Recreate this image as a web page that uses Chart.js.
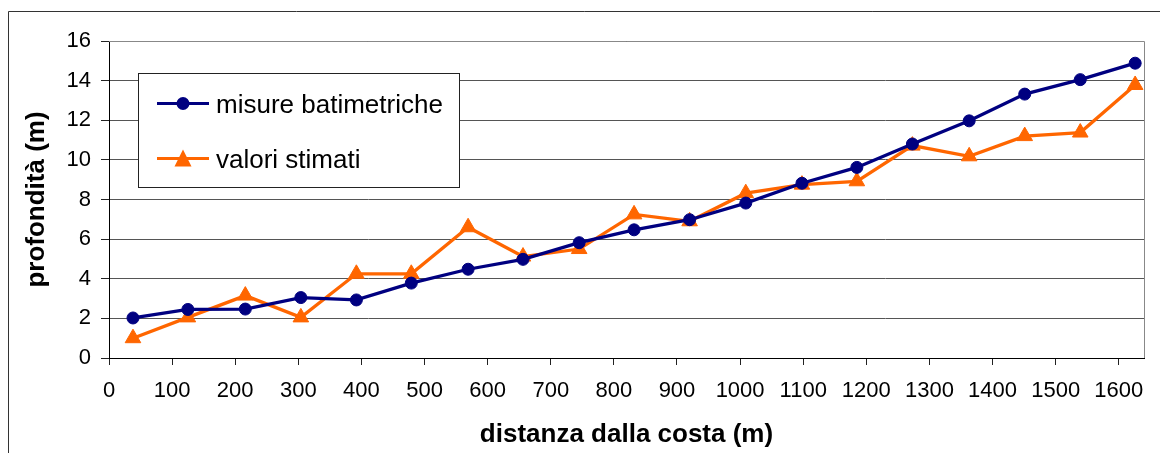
<!DOCTYPE html>
<html lang="it">
<head>
    <meta charset="UTF-8">
    <title>Profondità vs distanza dalla costa</title>
    <script src="https://cdn.jsdelivr.net/npm/chart.js"></script>
    <style>
        body {
            margin: 0;
            padding: 0;
            background-color: #fff;
        }
        canvas {
            display: block;
        }
    </style>
</head>
<body>
    <canvas id="chart" width="1160" height="453"></canvas>

    <script>
        // distanza dalla costa (m)
        const distances = [38, 125, 216, 304, 392, 479, 569, 656, 745, 832, 920, 1009, 1098, 1185, 1273, 1363, 1451, 1539, 1626];
        // profondità (m)
        const measured = [2.02, 2.45, 2.47, 3.05, 2.93, 3.78, 4.48, 4.98, 5.82, 6.47, 6.98, 7.82, 8.82, 9.62, 10.8, 11.97, 13.32, 14.05, 14.88];
        const estimated = [1.0, 2.05, 3.15, 2.05, 4.25, 4.25, 6.6, 5.12, 5.5, 7.25, 6.9, 8.32, 8.75, 8.92, 10.72, 10.18, 11.2, 11.38, 13.78];
        const seriesNames = ["misure batimetriche", "valori stimati"];

        const FONT = "'Liberation Sans', Arial, sans-serif";

        // frame around the whole chart + grey border on top/right of plot
        const framePlugin = {
            id: "frame",
            beforeDraw(chart) {
                const ctx = chart.ctx;
                ctx.save();
                ctx.strokeStyle = "#333";
                ctx.lineWidth = 1;
                ctx.beginPath();
                ctx.moveTo(8.5, chart.height);
                ctx.lineTo(8.5, 11.5);
                ctx.lineTo(chart.width, 11.5);
                ctx.stroke();
                ctx.restore();
            },
            afterDraw(chart) {
                const a = chart.chartArea;
                const ctx = chart.ctx;
                ctx.save();
                ctx.strokeStyle = "#888";
                ctx.lineWidth = 1;
                ctx.beginPath();
                ctx.moveTo(Math.round(a.left), Math.round(a.top) + 0.5);
                ctx.lineTo(Math.round(a.right) + 0.5, Math.round(a.top) + 0.5);
                ctx.lineTo(Math.round(a.right) + 0.5, Math.round(a.bottom));
                ctx.stroke();
                ctx.restore();
            }
        };

        // legend box inside the plot, like the original
        const legendBox = {
            id: "legendBox",
            afterDatasetsDraw(chart) {
                const ctx = chart.ctx;
                ctx.save();
                ctx.fillStyle = "#fff";
                ctx.fillRect(138.5, 73.5, 321, 114);
                ctx.strokeStyle = "#222";
                ctx.lineWidth = 1;
                ctx.strokeRect(138.5, 73.5, 321, 114);

                const rows = [103.5, 158.5];
                chart.data.datasets.forEach((ds, i) => {
                    const y = rows[i];
                    ctx.strokeStyle = ds.borderColor;
                    ctx.lineWidth = 3;
                    ctx.beginPath();
                    ctx.moveTo(157, y);
                    ctx.lineTo(209, y);
                    ctx.stroke();
                    ctx.fillStyle = ds.pointBackgroundColor;
                    ctx.beginPath();
                    if (ds.pointStyle === "triangle") {
                        ctx.moveTo(183, y - 9);
                        ctx.lineTo(191.5, y + 8);
                        ctx.lineTo(174.5, y + 8);
                        ctx.closePath();
                    } else {
                        ctx.arc(183, y, 6.5, 0, Math.PI * 2);
                    }
                    ctx.fill();

                    ctx.fillStyle = "#000";
                    ctx.font = "26px " + FONT;
                    ctx.textBaseline = "alphabetic";
                    ctx.fillText(ds.label, 216, y + 9);
                });
                ctx.restore();
            }
        };

        const toPoints = (vals) => vals.map((v, i) => ({ x: distances[i], y: v }));

        new Chart(document.getElementById("chart").getContext("2d"), {
            type: "line",
            data: {
                datasets: [
                    {
                        label: seriesNames[0],
                        data: toPoints(measured),
                        borderColor: "#000080",
                        backgroundColor: "#000080",
                        pointBackgroundColor: "#000080",
                        pointBorderColor: "#000080",
                        borderWidth: 3.3,
                        pointStyle: "circle",
                        pointRadius: 6,
                        pointBorderWidth: 1,
                        tension: 0
                    },
                    {
                        label: seriesNames[1],
                        data: toPoints(estimated),
                        borderColor: "#FF6600",
                        backgroundColor: "#FF6600",
                        pointBackgroundColor: "#FF6600",
                        pointBorderColor: "#FF6600",
                        borderWidth: 3.3,
                        pointStyle: "triangle",
                        pointRadius: 9,
                        pointBorderWidth: 1,
                        tension: 0
                    }
                ]
            },
            options: {
                responsive: false,
                animation: false,
                layout: { padding: { top: 41, right: 16, left: 0, bottom: 0 } },
                plugins: {
                    legend: { display: false },
                    tooltip: { enabled: false }
                },
                scales: {
                    x: {
                        type: "linear",
                        min: 0,
                        max: 1640,
                        afterFit: (scale) => { scale.height = 95; },
                        ticks: {
                            stepSize: 100,
                            includeBounds: false,
                            autoSkip: false,
                            maxRotation: 0,
                            padding: 13,
                            color: "#000",
                            font: { family: FONT, size: 22 },
                            callback: (v) => String(v)
                        },
                        grid: {
                            drawOnChartArea: false,
                            drawTicks: true,
                            tickLength: 7,
                            color: "#222"
                        },
                        border: { color: "#000", width: 1 },
                        title: {
                            display: true,
                            text: "distanza dalla costa (m)",
                            color: "#000",
                            font: { family: FONT, size: 26, weight: "bold" },
                            padding: { top: 0, bottom: 3 }
                        }
                    },
                    y: {
                        min: 0,
                        max: 16,
                        afterFit: (scale) => { scale.width = 109; },
                        ticks: {
                            stepSize: 2,
                            padding: 10,
                            color: "#000",
                            font: { family: FONT, size: 22 },
                            callback: (v) => String(v)
                        },
                        grid: {
                            color: "#555",
                            tickColor: "#222",
                            tickLength: 8
                        },
                        border: { color: "#000", width: 1 },
                        title: {
                            display: true,
                            text: "profondità (m)",
                            color: "#000",
                            font: { family: FONT, size: 26, weight: "bold" },
                            padding: { top: 21, bottom: 0 }
                        }
                    }
                }
            },
            plugins: [framePlugin, legendBox]
        });
    </script>
</body>
</html>
